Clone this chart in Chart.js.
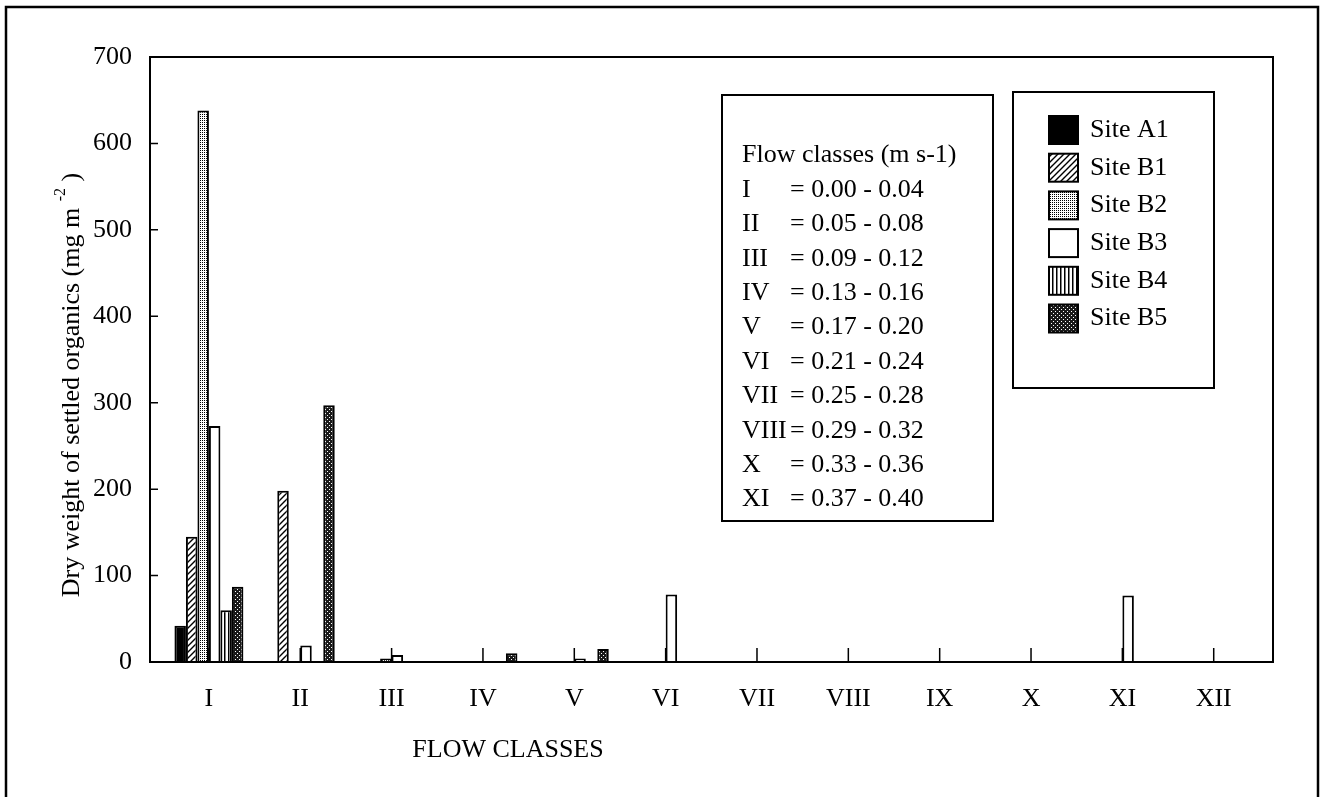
<!DOCTYPE html>
<html>
<head>
<meta charset="utf-8">
<title>Dry weight of settled organics by flow class</title>
<script src="https://cdn.jsdelivr.net/npm/chart.js@4.4.1/dist/chart.umd.min.js"></script>
<style>
  html, body { margin: 0; padding: 0; background: #fff; }
  #wrap { position: relative; width: 1325px; height: 797px; }
</style>
</head>
<body>
<div id="wrap"><canvas id="flowChart" width="1325" height="797"></canvas></div>
<script>
// flow classes along the x axis
var classLabels = ['I', 'II', 'III', 'IV', 'V', 'VI', 'VII', 'VIII', 'IX', 'X', 'XI', 'XII'];
var siteNames = ['Site A1', 'Site B1', 'Site B2', 'Site B3', 'Site B4', 'Site B5'];

// dry weight of settled organics (mg m-2), one value per flow class
var siteA1 = [42, 0, 0, 0, 0, 0, 0, 0, 0, 0, 0, 0];
var siteB1 = [145, 198, 0, 0, 0, 0, 0, 0, 0, 0, 0, 0];
var siteB2 = [638, 0, 4, 0, 0, 0, 0, 0, 0, 0, 0, 0];
var siteB3 = [273, 19, 8, 0, 4, 78, 0, 0, 0, 0, 77, 0];
var siteB4 = [60, 0, 0, 0, 0, 0, 0, 0, 0, 0, 0, 0];
var siteB5 = [87, 297, 0, 10, 15, 0, 0, 0, 0, 0, 0, 0];

var yMin = 0, yMax = 700, yStep = 100;

// text of the flow class key
var flowTitle = 'Flow classes (m s-1)';
var flowNames = ['I', 'II', 'III', 'IV', 'V', 'VI', 'VII', 'VIII', 'X', 'XI'];
var flowRanges = ['= 0.00 - 0.04', '= 0.05 - 0.08', '= 0.09 - 0.12', '= 0.13 - 0.16', '= 0.17 - 0.20',
                  '= 0.21 - 0.24', '= 0.25 - 0.28', '= 0.29 - 0.32', '= 0.33 - 0.36', '= 0.37 - 0.40'];

var xTitle = 'FLOW CLASSES';
var yTitle = 'Dry weight of settled organics (mg m';
var yTitleSup = '-2';
var yTitleEnd = ')';

var serif = "'Liberation Serif', 'Times New Roman', serif";

// hatch fills like the printed figure
function makePattern(kind) {
    var c = document.createElement('canvas');
    var size = kind === 'diag' ? 6 : 4;
    c.width = size; c.height = size;
    var g = c.getContext('2d');
    g.fillStyle = '#fff';
    g.fillRect(0, 0, size, size);
    g.fillStyle = '#000';
    g.strokeStyle = '#000';
    if (kind === 'diag') {
        g.lineWidth = 1.4;
        g.beginPath();
        g.moveTo(0, size); g.lineTo(size, 0);
        g.moveTo(-1, 1); g.lineTo(1, -1);
        g.moveTo(size - 1, size + 1); g.lineTo(size + 1, size - 1);
        g.stroke();
    } else if (kind === 'cross') {
        g.fillRect(0, 0, 1, 1);
        g.fillRect(2, 2, 1, 1);
        g.fillRect(2, 0, 1, 1);
        g.fillRect(0, 2, 1, 1);
    } else if (kind === 'vert') {
        g.fillRect(0, 0, 1.5, size);
    } else if (kind === 'dark') {
        g.fillStyle = '#1a1a1a';
        g.fillRect(0, 0, size, size);
        g.fillStyle = '#fff';
        g.fillRect(1, 1, 1, 1);
        g.fillRect(3, 3, 1, 1);
    }
    return g.createPattern(c, 'repeat');
}

function toPoints(values) {
    return values.map(function(v, i) { return { x: i + 1, y: v }; });
}

var fills = ['#000', makePattern('diag'), makePattern('cross'), '#fff', makePattern('vert'), makePattern('dark')];
var series = [siteA1, siteB1, siteB2, siteB3, siteB4, siteB5];

var datasets = series.map(function(values, i) {
    return {
        label: siteNames[i],
        data: toPoints(values),
        backgroundColor: fills[i],
        borderColor: '#000',
        borderWidth: 2,
        categoryPercentage: 0.755,
        barPercentage: 1.0
    };
});

var frames = {
    id: 'frames',
    beforeDatasetsDraw: function(chart) {
        var ctx = chart.ctx, area = chart.chartArea;
        var xs = chart.scales.x, ys = chart.scales.y;
        ctx.save();
        ctx.strokeStyle = '#000';
        ctx.lineWidth = 1.5;
        ctx.beginPath();
        // tick marks point into the plot
        xs.ticks.forEach(function(t) {
            var px = xs.getPixelForValue(t.value);
            ctx.moveTo(px, area.bottom);
            ctx.lineTo(px, area.bottom - 14);
        });
        ys.ticks.forEach(function(t) {
            var py = ys.getPixelForValue(t.value);
            ctx.moveTo(area.left, py);
            ctx.lineTo(area.left + 8, py);
        });
        ctx.stroke();
        ctx.restore();
    },
    afterDraw: function(chart) {
        var ctx = chart.ctx, area = chart.chartArea;
        ctx.save();
        ctx.strokeStyle = '#000';
        ctx.fillStyle = '#000';

        // outer frame, runs off the bottom of the page
        ctx.lineWidth = 2.5;
        ctx.strokeRect(6, 7, 1312, 830);

        // plot box
        ctx.lineWidth = 2;
        ctx.strokeRect(area.left, area.top, area.right - area.left, area.bottom - area.top);

        ctx.font = '26px ' + serif;
        ctx.textBaseline = 'middle';
        ctx.textAlign = 'left';

        // flow class key
        ctx.strokeRect(722, 95, 271, 426);
        ctx.fillText(flowTitle, 742, 155);
        flowNames.forEach(function(n, i) {
            var cy = 190 + i * 34.4;
            ctx.fillText(n, 742, cy);
            ctx.fillText(flowRanges[i], 790, cy);
        });

        // site legend
        ctx.strokeRect(1013, 92, 201, 296);
        chart.data.datasets.forEach(function(ds, i) {
            var cy = 130 + i * 37.7;
            ctx.fillStyle = ds.backgroundColor;
            ctx.fillRect(1049, cy - 14, 29, 28);
            ctx.strokeRect(1049, cy - 14, 29, 28);
            ctx.fillStyle = '#000';
            ctx.fillText(ds.label, 1090, cy);
        });

        // x axis title
        ctx.textAlign = 'center';
        ctx.fillText(xTitle, 508, 750);

        // y axis title with superscript
        ctx.translate(72, 385);
        ctx.rotate(-Math.PI / 2);
        ctx.textAlign = 'left';
        var mainW = ctx.measureText(yTitle + ' ').width;
        ctx.font = '16px ' + serif;
        var supW = ctx.measureText(yTitleSup).width;
        ctx.font = '26px ' + serif;
        var endW = ctx.measureText(' ' + yTitleEnd).width;
        var x0 = -(mainW + supW + endW) / 2;
        ctx.fillText(yTitle + ' ', x0, 0);
        ctx.font = '16px ' + serif;
        ctx.fillText(yTitleSup, x0 + mainW, -11);
        ctx.font = '26px ' + serif;
        ctx.fillText(' ' + yTitleEnd, x0 + mainW + supW, 0);
        ctx.restore();
    }
};

var ctx = document.getElementById('flowChart').getContext('2d');
new Chart(ctx, {
    type: 'bar',
    data: { datasets: datasets },
    options: {
        responsive: false,
        animation: false,
        devicePixelRatio: 1,
        layout: { padding: { left: 0, right: 52, top: 57, bottom: 0 } },
        plugins: {
            legend: { display: false },
            tooltip: { enabled: false }
        },
        scales: {
            x: {
                type: 'linear',
                offset: false,
                min: 0.355,
                max: 12.649,
                grid: { display: false, drawTicks: false, offset: false },
                border: { display: false },
                ticks: {
                    stepSize: 1,
                    includeBounds: false,
                    autoSkip: false,
                    maxRotation: 0,
                    padding: 22,
                    color: '#000',
                    font: { family: serif, size: 26 },
                    callback: function(v) { return classLabels[v - 1] || ''; }
                },
                afterFit: function(scale) { scale.height = 135; }
            },
            y: {
                min: yMin,
                max: yMax,
                grid: { display: false, drawTicks: false },
                border: { display: false },
                ticks: {
                    stepSize: yStep,
                    padding: 18,
                    color: '#000',
                    font: { family: serif, size: 26 }
                },
                afterFit: function(scale) { scale.width = 150; }
            }
        }
    },
    plugins: [frames]
});
</script>
</body>
</html>
